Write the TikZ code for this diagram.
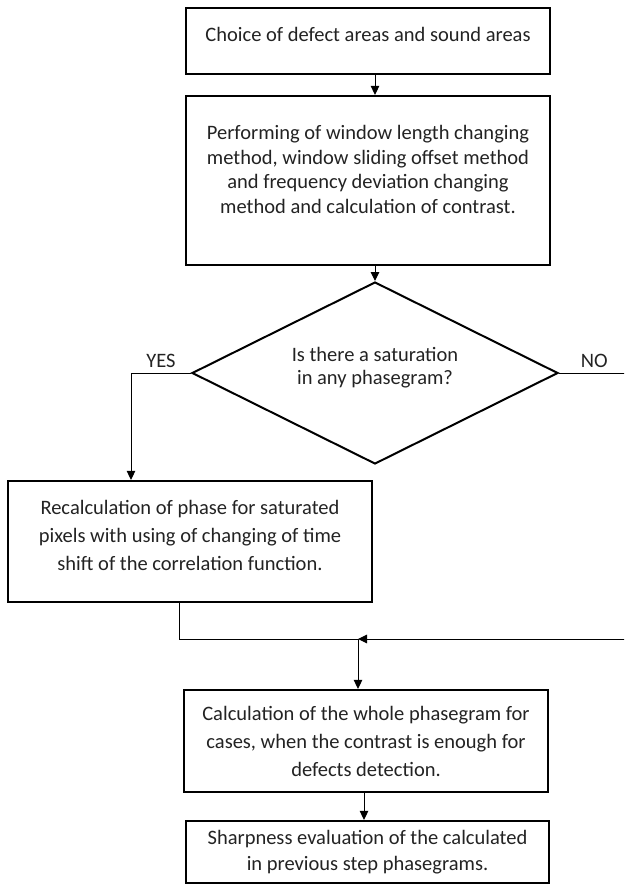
\documentclass[tikz,border=0pt]{standalone}
\usepackage{fontspec}
\setmainfont{Carlito}
\usepackage{tikz}
\usetikzlibrary{arrows.meta,positioning,calc,shapes.geometric}
\definecolor{FluxoTexto}{RGB}{35,35,35}
\definecolor{FluxoLinha}{RGB}{0,0,0}
\tikzset{
  bloco/.style={draw=FluxoLinha, fill=white, line width=2.2pt, align=center,
                text=FluxoTexto, font=\fontsize{20.5}{24.5}\selectfont, inner sep=0pt},
  losango/.style={diamond, aspect=2, draw=FluxoLinha, line width=2pt, align=center,
                text=FluxoTexto, font=\fontsize{20.5}{22.5}\selectfont, inner sep=0pt},
  seta/.style={-{Triangle[length=9pt,width=8.5pt]}, line width=1pt, FluxoLinha},
  linha/.style={line width=1pt, FluxoLinha},
  rotulo/.style={font=\fontsize{20.5}{24.5}\selectfont, text=FluxoTexto, inner sep=3pt},
}

\begin{document}
\begin{tikzpicture}[x=1pt, y=-1pt]
  \useasboundingbox (0,0) rectangle (624,891);
  \clip (0,0) rectangle (624,891);

  % Etapas iniciais
  \node[bloco, minimum width=364pt, minimum height=66pt] (escolha) at (368,41)
    {Choice of defect areas and sound areas\\[-12pt]\mbox{}};
  \node[bloco, minimum width=364pt, minimum height=169pt] (metodos) at (368,180.5)
    {Performing of window length changing\\method, window sliding offset method\\
     and frequency deviation changing\\method and calculation of contrast.\\[-2pt]\mbox{}};

  % Decisao
  \node[losango, minimum width=366pt, minimum height=182pt] (saturacao) at (375,373)
    {Is there a saturation\\in any phasegram?\\[-8pt]\mbox{}};

  % Ramo YES
  \node[bloco, font=\fontsize{20.5}{28}\selectfont, minimum width=364pt, minimum height=121pt]
    (recalculo) at (190,541.5)
    {Recalculation of phase for saturated\\pixels with using of changing of time\\
     shift of the correlation function.\\[-15pt]\mbox{}};

  % Etapas finais
  \node[bloco, font=\fontsize{20.5}{28}\selectfont, minimum width=364pt, minimum height=102pt]
    (fase) at (366,741)
    {Calculation of the whole phasegram for\\cases, when the contrast is enough for\\
     defects detection.};
  \node[bloco, font=\fontsize{20.5}{26}\selectfont, minimum width=363pt, minimum height=62pt]
    (nitidez) at (367.5,852)
    {Sharpness evaluation of the calculated\\in previous step phasegrams.};

  \coordinate (dobrasim) at (131,373);
  \coordinate (dobranao) at (660,373);
  \coordinate (juncao) at (358,639);

  % Ligacoes
  \draw[seta] (saturacao.north |- escolha.south) -- (saturacao.north |- metodos.north);
  \draw[seta] (saturacao.north |- metodos.south) -- (saturacao.north);
  \draw[seta] (saturacao.west) -- node[rotulo, above=2pt] (sim) {YES} (dobrasim)
    -- (dobrasim |- recalculo.north);
  \draw[seta] (saturacao.east) -- node[rotulo, above=2pt, pos=0.35] (nao) {NO} (dobranao)
    |- (juncao);
  \draw[linha] ([xshift=-11pt]recalculo.south) |- (juncao);
  \draw[seta] (juncao) -- (juncao |- fase.north);
  \draw[seta] ([xshift=-2pt]fase.south) -- ([xshift=-2pt]fase.south |- nitidez.north);
\end{tikzpicture}
\end{document}
